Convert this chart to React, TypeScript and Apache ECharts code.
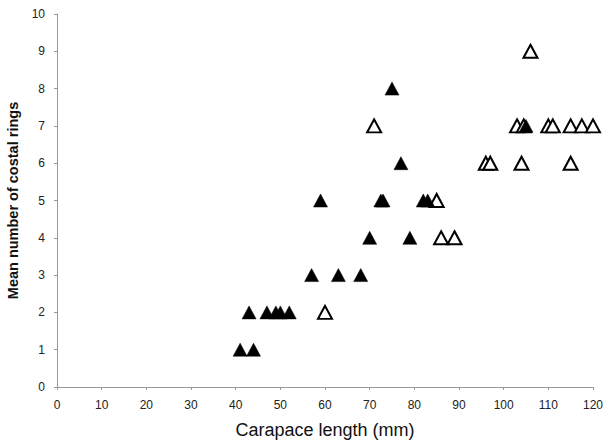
import React, { useEffect, useRef } from "react";
import * as echarts from "echarts";

const filledX = [41, 44, 43, 47, 49, 50, 52, 57, 63, 68, 70, 79, 59, 72.5, 73, 82, 83, 77, 75, 105];
const filledY = [1, 1, 2, 2, 2, 2, 2, 3, 3, 3, 4, 4, 5, 5, 5, 5, 5, 6, 8, 7];
const openX = [60, 86, 89, 85, 96, 97, 104, 115, 71, 103, 104.5, 110, 111, 115, 117.5, 120, 106];
const openY = [2, 4, 4, 5, 6, 6, 6, 6, 7, 7, 7, 7, 7, 7, 7, 7, 9];

export default function App() {
  const ref = useRef<HTMLDivElement>(null);
  useEffect(() => {
    const chart = echarts.init(ref.current!, null, { renderer: "svg" });
    const labelStyle = { color: "#222", fontSize: 12, fontFamily: "Liberation Sans" };
    chart.setOption({
      animation: false,
      backgroundColor: "#fff",
      grid: { left: 57, right: 12, top: 14, bottom: 56, outerBoundsMode: "none", containLabel: false },
      xAxis: {
        type: "value",
        min: 0,
        max: 120,
        interval: 10,
        name: "Carapace length (mm)",
        nameLocation: "middle",
        nameGap: 34,
        nameTextStyle: { fontSize: 18, color: "#111", fontFamily: "Liberation Sans" },
        axisLine: { show: true, lineStyle: { color: "#999" } },
        axisTick: { show: true, length: 3, lineStyle: { color: "#999" } },
        axisLabel: { ...labelStyle, margin: 12 },
        splitLine: { show: false },
      },
      yAxis: {
        type: "value",
        min: 0,
        max: 10,
        interval: 1,
        name: "Mean number of costal rings",
        nameLocation: "middle",
        nameGap: 36,
        nameTextStyle: { fontSize: 14.5, fontWeight: "bold", color: "#111", fontFamily: "Liberation Sans" },
        axisLine: { show: true, lineStyle: { color: "#999" } },
        axisTick: { show: true, length: 3, lineStyle: { color: "#999" } },
        axisLabel: { ...labelStyle, margin: 12 },
        splitLine: { show: false },
      },
      series: [
        {
          type: "scatter",
          symbol: "triangle",
          symbolSize: [14, 13],
          data: openX.map((x, i) => [x, openY[i]]),
          itemStyle: { color: "#fff", borderColor: "#000", borderWidth: 2, opacity: 1 },
        },
        {
          type: "scatter",
          symbol: "triangle",
          symbolSize: [14, 13],
          data: filledX.map((x, i) => [x, filledY[i]]),
          itemStyle: { color: "#000", borderColor: "#000", borderWidth: 0.5, opacity: 1 },
        },
      ],
    });
    return () => chart.dispose();
  }, []);
  return <div ref={ref} style={{ width: 605, height: 443, position: "absolute", left: 0, top: 0 }} />;
}
